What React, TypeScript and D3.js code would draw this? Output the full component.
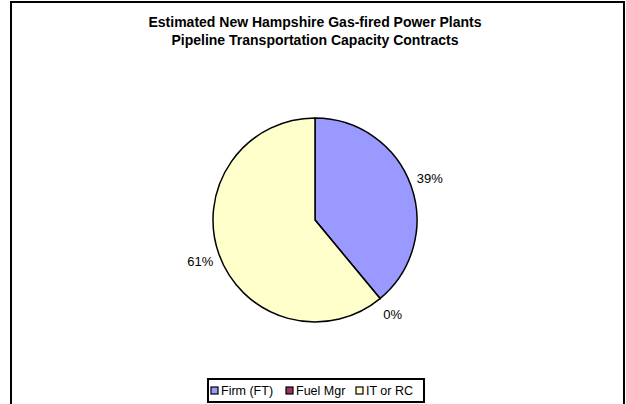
import React from 'react';
import * as d3 from 'd3';

const titleLines = ['Estimated New Hampshire Gas-fired Power Plants', 'Pipeline Transportation Capacity Contracts'];
const categories = ['Firm (FT)', 'Fuel Mgr', 'IT or RC'];
const shares = [39, 0, 61];
const colors = ['#9999FF', '#993366', '#FFFFCC'];

const W = 626;
const H = 404;

export default function App() {
  const cx = 315;
  const cy = 220;
  const r = 102;
  const labelR = 122;

  // excel pies start at 12 o'clock and go clockwise, same as d3
  const pie = d3.pie<number>().sort(null).value(d => d)(shares);
  const arc = d3.arc<d3.PieArcDatum<number>>().innerRadius(0).outerRadius(r);
  const labelArc = d3.arc<d3.PieArcDatum<number>>().innerRadius(labelR).outerRadius(labelR);

  const legendX = 208;
  const legendY = 379;
  const itemX = [211, 286, 356];

  return (
    <svg width={W} height={H} style={{ position: 'absolute', left: 0, top: 0, fontFamily: 'Liberation Sans, Arial, sans-serif' }}>
      <rect x={0} y={0} width={W} height={H} fill="#fff" />
      <rect x={11} y={2} width={613} height={420} fill="none" stroke="#000" strokeWidth={2} />
      {titleLines.map((t, i) => (
        <text key={i} x={cx} y={27 + i * 18} textAnchor="middle" fontSize={14} fontWeight="bold">{t}</text>
      ))}
      <g transform={`translate(${cx},${cy})`}>
        {pie.map((p, i) => (
          <path key={i} d={arc(p) || ''} fill={colors[i]} stroke="#000" strokeWidth={1.5} strokeLinejoin="round" />
        ))}
        {pie.map((p, i) => {
          const [lx, ly] = labelArc.centroid(p);
          return (
            <text key={'l' + i} x={lx} y={ly} textAnchor="middle" dominantBaseline="central" fontSize={13}>
              {shares[i]}%
            </text>
          );
        })}
      </g>
      <rect x={legendX} y={legendY} width={216} height={23} fill="#fff" stroke="#000" strokeWidth={2} />
      {categories.map((c, i) => (
        <g key={c} transform={`translate(${itemX[i]},${legendY + 11.5})`}>
          <rect x={0} y={-3.5} width={7} height={7} fill={colors[i]} stroke="#000" strokeWidth={1.2} />
          <text x={10} y={0} dominantBaseline="central" fontSize={12.5}>{c}</text>
        </g>
      ))}
    </svg>
  );
}
